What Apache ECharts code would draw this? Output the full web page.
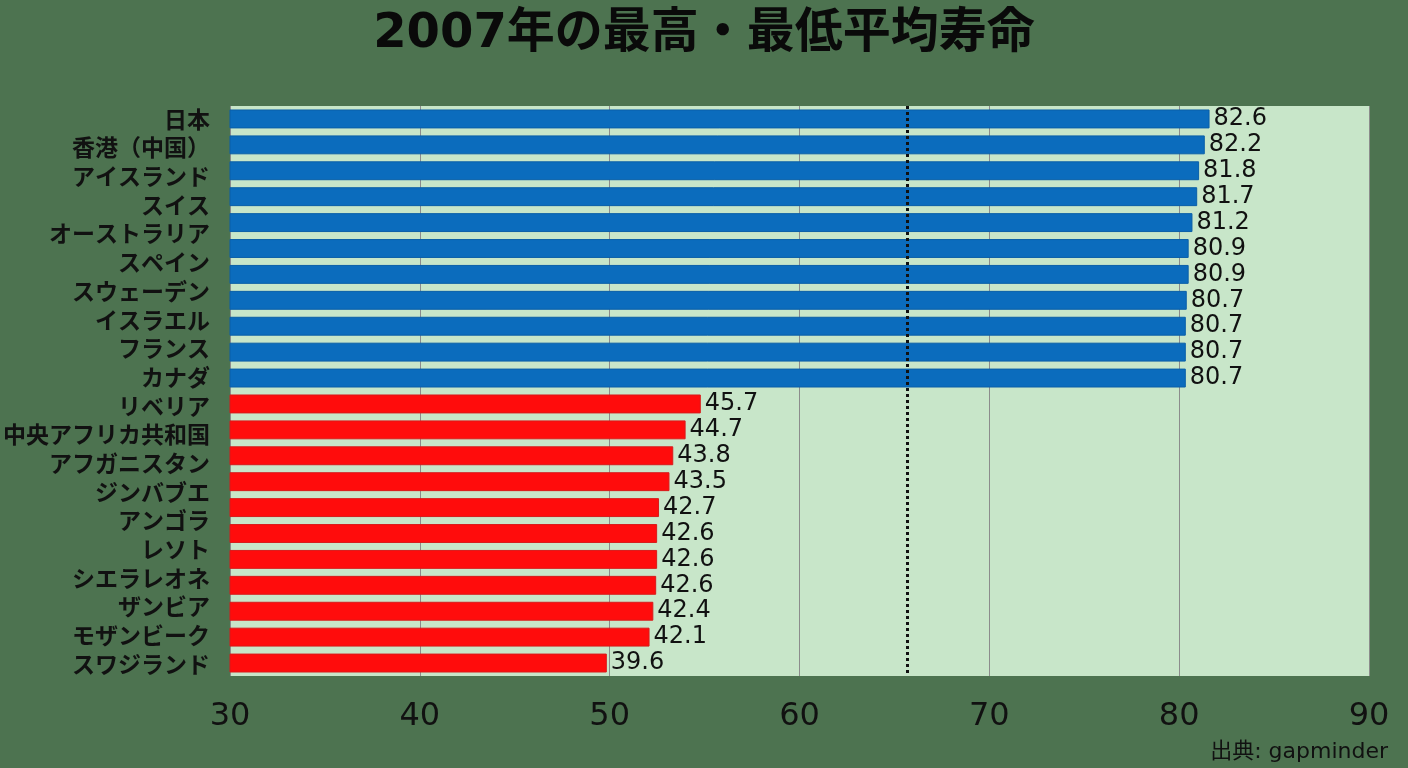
<!DOCTYPE html>
<html lang="ja">
<head>
<meta charset="utf-8">
<title>2007年の最高・最低平均寿命</title>
<script src="https://cdn.jsdelivr.net/npm/echarts@6/dist/echarts.min.js"></script>
<style>
  html, body { margin: 0; padding: 0; background: #4d7350; }
  #chart { width: 1408px; height: 768px; }
</style>
</head>
<body>
<div id="chart"></div>
<script>
// 国・地域名（元の図では 20 個の名前が 22 本の棒の高さいっぱいに等間隔で並ぶ）
const countries = [
  '日本', '香港（中国）', 'アイスランド', 'スイス', 'オーストラリア', 'スペイン',
  'スウェーデン', 'イスラエル', 'フランス', 'カナダ',
  'リベリア', '中央アフリカ共和国', 'アフガニスタン', 'ジンバブエ', 'アンゴラ',
  'レソト', 'シエラレオネ', 'ザンビア', 'モザンビーク', 'スワジランド'
];

// 図に印字されている平均寿命（棒ごとのラベル、上から）
const labelValues = [
  82.6, 82.2, 81.8, 81.7, 81.2, 80.9, 80.9, 80.7, 80.7, 80.7, 80.7,
  45.7, 44.7, 43.8, 43.5, 42.7, 42.6, 42.6, 42.6, 42.4, 42.1, 39.6
];

// 元の図で棒が実際に届いている位置（x 軸の目盛りから読み取り）
const barLengths = [
  81.6, 81.35, 81.05, 80.95, 80.7, 80.5, 80.5, 80.4, 80.35, 80.35, 80.35,
  54.8, 54.0, 53.35, 53.15, 52.6, 52.5, 52.5, 52.45, 52.3, 52.1, 49.85
];

// 上位 = high（青）、下位 = low（赤）
const groups = [
  'high', 'high', 'high', 'high', 'high', 'high', 'high', 'high', 'high', 'high', 'high',
  'low', 'low', 'low', 'low', 'low', 'low', 'low', 'low', 'low', 'low', 'low'
];

// x 軸の目盛り
const xTicks = [30, 40, 50, 60, 70, 80, 90];

// 点線の位置
const referenceLine = 65.7;

const colors = { high: '#0b6cbd', low: '#ff0c0c' };
const borders = { high: '#0a5fa8', low: '#d81a1a' };

// 棒の行番号（棒用のカテゴリ軸、ラベルは出さない）
const barSlots = barLengths.map((_, i) => String(i));

const chart = echarts.init(document.getElementById('chart'));

chart.setOption({
  backgroundColor: '#4d7350',
  title: {
    text: '2007年の最高・最低平均寿命',
    left: 'center',
    top: 6,
    textStyle: {
      fontFamily: 'DejaVu Sans, Noto Sans CJK JP',
      fontSize: 48,
      fontWeight: 'bold',
      color: '#0a0a0a'
    }
  },
  grid: [
    {
      // 棒を描く領域
      left: 230,
      right: 39,
      top: 106,
      bottom: 92,
      show: true,
      backgroundColor: '#c8e6c9',
      borderWidth: 0
    },
    {
      // 国名ラベル用（最初の棒の中心から最後の棒の中心まで）
      left: 230,
      right: 39,
      top: 119,
      bottom: 104,
      show: false
    }
  ],
  xAxis: [
    {
      gridIndex: 0,
      type: 'value',
      min: xTicks[0],
      max: xTicks[xTicks.length - 1],
      interval: 10,
      axisLine: { show: false },
      axisTick: { show: false },
      splitLine: { lineStyle: { color: '#8c8c8c', width: 1 } },
      axisLabel: {
        margin: 25,
        fontFamily: 'DejaVu Sans',
        fontSize: 32,
        color: '#111'
      }
    },
    {
      gridIndex: 1,
      type: 'value',
      show: false
    }
  ],
  yAxis: [
    {
      gridIndex: 0,
      type: 'category',
      inverse: true,
      data: barSlots,
      axisLine: { show: false },
      axisTick: { show: false },
      axisLabel: { show: false }
    },
    {
      gridIndex: 1,
      type: 'category',
      inverse: true,
      boundaryGap: false,
      data: countries,
      axisLine: { show: false },
      axisTick: { show: false },
      splitLine: { show: false },
      axisLabel: {
        interval: 0,
        margin: 21,
        fontFamily: 'Noto Sans CJK JP',
        fontSize: 23,
        fontWeight: 'bold',
        color: '#111'
      }
    }
  ],
  series: [{
    type: 'bar',
    xAxisIndex: 0,
    yAxisIndex: 0,
    barCategoryGap: '27%',
    data: barLengths.map((v, i) => ({
      value: v,
      itemStyle: {
        color: colors[groups[i]],
        borderColor: borders[groups[i]],
        borderWidth: 1
      }
    })),
    label: {
      show: true,
      position: 'right',
      distance: 4,
      fontFamily: 'DejaVu Sans',
      fontSize: 24,
      color: '#111',
      formatter: (p) => labelValues[p.dataIndex].toFixed(1)
    },
    markLine: {
      silent: true,
      symbol: 'none',
      label: { show: false },
      lineStyle: { color: '#111', width: 3, type: [3, 3] },
      data: [{ xAxis: referenceLine }]
    }
  }],
  graphic: [{
    type: 'text',
    right: 20,
    bottom: 5,
    style: {
      text: '出典: gapminder',
      fontFamily: 'DejaVu Sans, Noto Sans CJK JP',
      fontSize: 22,
      fill: '#111'
    }
  }]
});
</script>
</body>
</html>
